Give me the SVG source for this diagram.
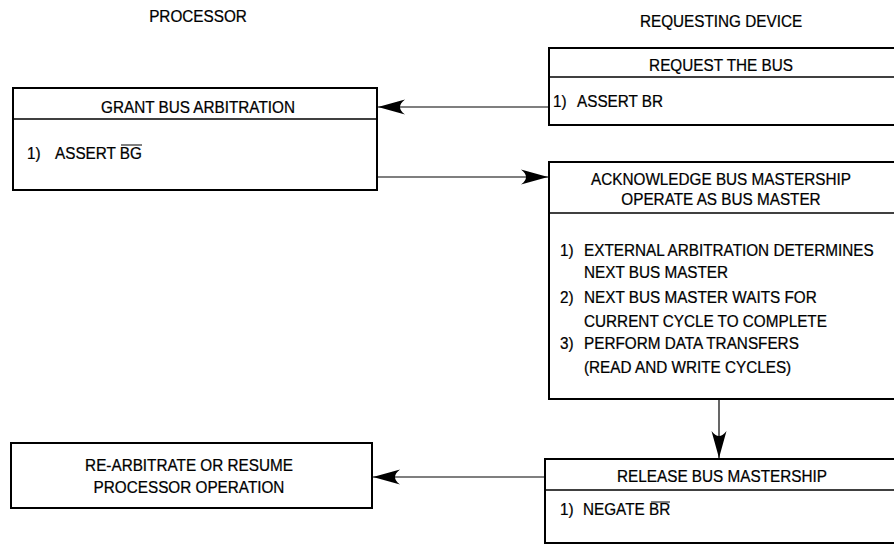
<svg xmlns="http://www.w3.org/2000/svg" width="894" height="546" viewBox="0 0 894 546">
<style>
text{font-family:"Liberation Sans",Arial,sans-serif;font-size:17px;fill:#000;stroke:#000;stroke-width:0.25;transform-box:fill-box;transform-origin:left center;transform:scaleX(0.9)}
text.c{text-anchor:middle;transform-origin:center}
.box{fill:#fff;stroke:#000;stroke-width:2}
.div{stroke:#000;stroke-width:1.5}
.conn{stroke:#000;stroke-width:1.2;fill:none;marker-end:url(#ah)}
.ob{stroke:#000;stroke-width:1}
</style>
<defs>
<marker id="ah" markerUnits="userSpaceOnUse" orient="auto" overflow="visible" markerWidth="1" markerHeight="1" refX="0" refY="0">
<path d="M0,0 L-27,-7.5 Q-17,0 -27,7.5 Z" fill="#000"/>
</marker>
</defs>
<rect width="894" height="546" fill="#fff"/>
<text class="c" x="198" y="22">PROCESSOR</text>
<text class="c" x="721" y="27">REQUESTING DEVICE</text>

<g id="request">
<rect class="box" x="549" y="48" width="360" height="77"/>
<line class="div" x1="549" y1="77" x2="909" y2="77"/>
<text class="c" x="721" y="71">REQUEST THE BUS</text>
<text x="553" y="107">1)</text>
<text x="577" y="107">ASSERT BR</text>
</g>

<g id="grant">
<rect class="box" x="13" y="88" width="364" height="102"/>
<line class="div" x1="13" y1="119" x2="377" y2="119"/>
<text class="c" x="198" y="113">GRANT BUS ARBITRATION</text>
<text x="27" y="159">1)</text>
<text x="55" y="159">ASSERT BG</text>
<line class="ob" x1="121" y1="145" x2="142" y2="145"/>
</g>

<g id="acknowledge">
<rect class="box" x="549" y="162" width="360" height="237"/>
<line class="div" x1="549" y1="213" x2="909" y2="213"/>
<text class="c" x="721" y="185">ACKNOWLEDGE BUS MASTERSHIP</text>
<text class="c" x="721" y="205">OPERATE AS BUS MASTER</text>
<text x="560" y="256">1)</text>
<text x="584" y="256">EXTERNAL ARBITRATION DETERMINES</text>
<text x="584" y="278">NEXT BUS MASTER</text>
<text x="560" y="303">2)</text>
<text x="584" y="303">NEXT BUS MASTER WAITS FOR</text>
<text x="584" y="327">CURRENT CYCLE TO COMPLETE</text>
<text x="560" y="349">3)</text>
<text x="584" y="349">PERFORM DATA TRANSFERS</text>
<text x="584" y="373">(READ AND WRITE CYCLES)</text>
</g>

<g id="release">
<rect class="box" x="545" y="459" width="364" height="84"/>
<line class="div" x1="545" y1="490" x2="909" y2="490"/>
<text class="c" x="722" y="482">RELEASE BUS MASTERSHIP</text>
<text x="560" y="515">1)</text>
<text x="583" y="515">NEGATE BR</text>
<line class="ob" x1="651" y1="502" x2="670" y2="502"/>
</g>

<g id="rearbitrate">
<rect class="box" x="11" y="443" width="361" height="65"/>
<text class="c" x="189" y="471">RE-ARBITRATE OR RESUME</text>
<text class="c" x="189" y="493">PROCESSOR OPERATION</text>
</g>

<g id="connectors">
<line class="conn" x1="549" y1="107" x2="378" y2="107"/>
<line class="conn" x1="377" y1="177" x2="548" y2="177"/>
<line class="conn" x1="719" y1="399" x2="719" y2="458"/>
<line class="conn" x1="545" y1="477" x2="373" y2="477"/>
</g>
</svg>
